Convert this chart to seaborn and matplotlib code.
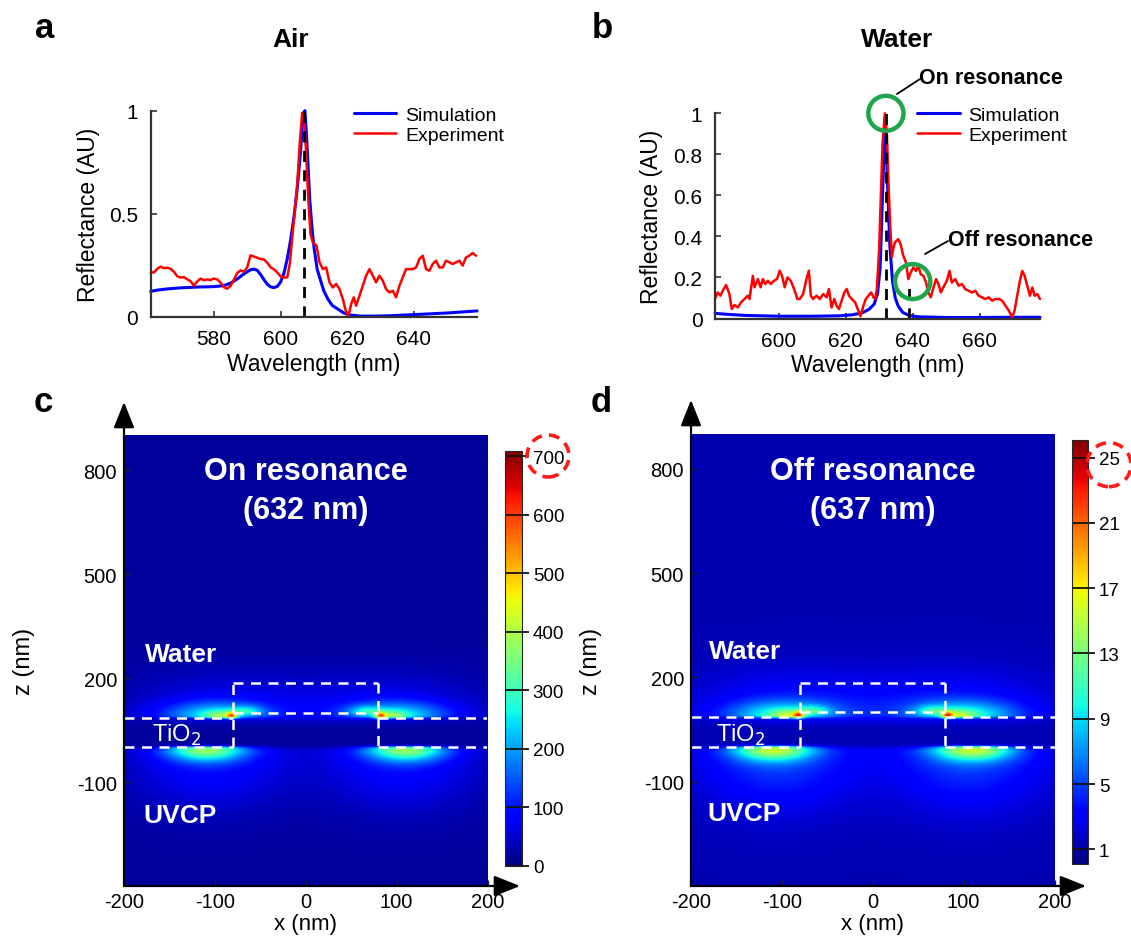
import numpy as np
import matplotlib
matplotlib.use("Agg")
import matplotlib.pyplot as plt
import seaborn as sns
from matplotlib.patches import Ellipse, Circle
from matplotlib.lines import Line2D

# ---------------- panel a : air ----------------
air_sim_wl = [561, 563, 566, 570, 575, 580, 583, 585, 587, 589,
              591, 592, 593, 594, 595, 596, 597, 598, 599, 600,
              601, 602, 603, 604, 605, 606, 606.5, 607, 607.3, 607.8,
              608.3, 608.8, 609.5, 610.1, 611, 612.2, 613, 614.2, 615.5, 617.2,
              619, 621, 624, 628, 632, 640, 650, 659]
air_sim_r = [0.123, 0.129, 0.135, 0.140, 0.144, 0.146, 0.151, 0.163, 0.183, 0.208,
             0.228, 0.231, 0.225, 0.205, 0.180, 0.158, 0.145, 0.141, 0.147, 0.168,
             0.21, 0.28, 0.37, 0.48, 0.62, 0.80, 0.92, 0.99, 1.0, 0.88,
             0.72, 0.56, 0.42, 0.33, 0.23, 0.167, 0.125, 0.086, 0.055, 0.037,
             0.018, 0.008, 0.003, 0.003, 0.004, 0.010, 0.018, 0.028]

air_exp_wl = [561, 562, 563, 564, 565, 566, 567, 568, 569, 570,
              571, 572, 573, 574, 575, 576, 577, 578, 579, 580,
              581, 582, 583, 584, 585, 586, 587, 588, 589, 590,
              591, 592, 593, 594, 595, 596, 597, 598, 599, 600,
              601, 602, 602.8, 603.6, 604.3, 605, 605.8, 606.5, 607, 607.6,
              608.3, 609, 609.7, 610.8, 611.7, 612.7, 613.7, 614.7, 615.7, 616.7,
              617.7, 618.7, 619.7, 620.4, 621.2, 622.0, 622.7, 623.7, 624.7, 625.7,
              626.7, 627.7, 628.7, 629.7, 630.7, 631.7, 632.7, 633.7, 634.7, 635.7,
              636.7, 637.7, 638.7, 639.7, 640.7, 641.7, 642.7, 643.7, 644.7, 645.7,
              646.7, 647.7, 648.7, 649.7, 650.7, 651.7, 652.7, 653.7, 654.7, 655.7,
              656.7, 657.7, 658.7]
air_exp_r = [0.215, 0.215, 0.233, 0.243, 0.236, 0.238, 0.232, 0.218, 0.196, 0.190,
             0.192, 0.181, 0.172, 0.150, 0.172, 0.185, 0.177, 0.181, 0.178, 0.185,
             0.181, 0.165, 0.143, 0.136, 0.150, 0.180, 0.212, 0.225, 0.218, 0.240,
             0.298, 0.292, 0.286, 0.280, 0.278, 0.262, 0.240, 0.230, 0.215, 0.196,
             0.190, 0.191, 0.26, 0.40, 0.52, 0.64, 0.85, 0.99, 0.98, 0.82,
             0.58, 0.40, 0.36, 0.345, 0.264, 0.231, 0.239, 0.167, 0.142, 0.159,
             0.134, 0.086, 0.021, 0.002, 0.061, 0.094, 0.053, 0.102, 0.150, 0.199,
             0.231, 0.199, 0.167, 0.199, 0.175, 0.134, 0.118, 0.126, 0.094, 0.150,
             0.191, 0.231, 0.231, 0.231, 0.239, 0.280, 0.296, 0.231, 0.223, 0.256,
             0.272, 0.239, 0.239, 0.272, 0.264, 0.256, 0.264, 0.272, 0.248, 0.288,
             0.296, 0.309, 0.296]

# ---------------- panel b : water ----------------
water_sim_wl = [581, 585, 590, 600, 610, 618, 622, 625, 627, 628.5,
                629.5, 630.3, 631, 631.8, 632.5, 633.2, 634, 634.8, 635.7, 637,
                639, 642, 650, 660, 670, 678]
water_sim_r = [0.025, 0.02, 0.015, 0.011, 0.011, 0.013, 0.018, 0.028, 0.045, 0.07,
               0.12, 0.25, 0.6, 0.98, 0.65, 0.35, 0.18, 0.10, 0.06, 0.03,
               0.014, 0.008, 0.005, 0.005, 0.006, 0.006]

water_exp_wl = [581, 581.8, 582.6, 583.3, 584.3, 585.3, 586.0, 586.8, 587.8, 588.8,
                589.8, 590.8, 591.3, 592.3, 592.8, 593.8, 594.6, 595.3, 596.0, 596.8,
                597.6, 598.6, 599.5, 600.3, 601.0, 601.8, 602.6, 603.6, 604.6, 605.6,
                606.3, 607.3, 608.3, 609.0, 609.6, 610.3, 611.3, 612.3, 613.3, 614.3,
                615.0, 615.8, 616.6, 617.3, 618.0, 618.8, 619.6, 620.3, 621.0, 621.8,
                622.8, 623.8, 624.4, 625.3, 626.0, 626.8, 627.6, 628.3, 628.8, 629.3,
                630.0, 630.5, 631.0, 631.7, 632.3, 632.8, 633.3, 633.8, 634.2, 634.7,
                635.7, 636.4, 637.2, 638.0, 638.7, 639.4, 640.2, 641.0, 641.7, 642.4,
                643.2, 644.0, 644.7, 645.4, 646.2, 647.0, 647.7, 648.4, 649.4, 650.2,
                651.0, 651.7, 652.7, 653.7, 654.7, 655.7, 656.7, 657.7, 658.7, 659.7,
                660.7, 661.7, 662.7, 663.7, 664.7, 665.7, 666.7, 667.7, 668.7, 669.7,
                670.4, 671.2, 672.0, 672.7, 673.4, 674.2, 675.0, 675.7, 676.4, 677.2,
                678.0]
water_exp_r = [0.095, 0.127, 0.111, 0.135, 0.163, 0.119, 0.046, 0.066, 0.054, 0.079,
               0.095, 0.111, 0.095, 0.208, 0.152, 0.192, 0.152, 0.192, 0.168, 0.184,
               0.168, 0.184, 0.192, 0.233, 0.208, 0.152, 0.200, 0.184, 0.144, 0.095,
               0.095, 0.119, 0.192, 0.233, 0.111, 0.095, 0.111, 0.095, 0.119, 0.103,
               0.144, 0.054, 0.095, 0.062, 0.046, 0.087, 0.127, 0.144, 0.111, 0.095,
               0.079, 0.038, 0.011, 0.062, 0.095, 0.111, 0.127, 0.103, 0.095, 0.144,
               0.34, 0.60, 0.85, 1.0, 0.90, 0.65, 0.45, 0.30, 0.34, 0.37,
               0.387, 0.362, 0.306, 0.273, 0.192, 0.224, 0.249, 0.232, 0.257, 0.216,
               0.208, 0.175, 0.127, 0.103, 0.151, 0.192, 0.168, 0.127, 0.160, 0.184,
               0.232, 0.175, 0.192, 0.160, 0.168, 0.143, 0.135, 0.127, 0.135, 0.111,
               0.103, 0.095, 0.103, 0.087, 0.095, 0.095, 0.087, 0.062, 0.038, 0.006,
               0.038, 0.111, 0.184, 0.232, 0.208, 0.160, 0.111, 0.151, 0.111, 0.119,
               0.095]

# ---------------- panels c, d : field maps ----------------
# hot spots of |E|^2 (left side, mirrored to the right), amplitude as fraction of colour max
spot_x = [-82, -95, -100, -90, -65, -110, -105]
spot_z = [90, 88, 90, 100, 102, -3, -15]
spot_sx = [4, 12, 40, 75, 12, 30, 60]
spot_sup = [8, 12, 28, 80, 12, 4, 10]
spot_sdn = [6, 4, 5, 20, 5, 25, 110]
on_amp = [0.40, 0.20, 0.26, 0.08, 0.15, 0.42, 0.12]
off_amp = [0.40, 0.20, 0.27, 0.10, 0.15, 0.44, 0.15]
on_base, off_base = 0.025, 0.05
on_max, off_min, off_max = 709, 0.1, 26.1
on_ticks = [0, 100, 200, 300, 400, 500, 600, 700]
off_ticks = [1, 5, 9, 13, 17, 21, 25]

# dashed outline of TiO2 grating (x, z)
outline = [
    ([-200, -80], [85, 85]), ([-200, -80], [0, 0]), ([-80, -80], [0, 185]),
    ([-80, 80], [185, 185]), ([80, 80], [185, 0]), ([80, 200], [85, 85]),
    ([80, 200], [0, 0]), ([-80, 80], [100, 100]),
]

sns.set_style("ticks")
plt.rcParams['font.family'] = ['Liberation Sans', 'DejaVu Sans']
plt.rcParams['text.color'] = 'black'
plt.rcParams['axes.labelcolor'] = 'black'
plt.rcParams['xtick.labelcolor'] = 'black'
plt.rcParams['ytick.labelcolor'] = 'black'

W, H = 1131, 937
fig = plt.figure(figsize=(W / 100, H / 100), dpi=100)


def fx(x):
    return x / W


def fy(y):
    return 1 - y / H


def box(l, t, r, b):
    return [l / W, 1 - b / H, (r - l) / W, (b - t) / H]


def spectrum(ax, sim_wl, sim_r, exp_wl, exp_r, xlim, yticks, ylabels):
    sns.lineplot(x=sim_wl, y=sim_r, ax=ax, color='#0000ff', lw=2.2, label='Simulation', sort=False)
    sns.lineplot(x=exp_wl, y=exp_r, ax=ax, color='#ff0000', lw=1.8, label='Experiment', sort=False)
    for ln in ax.lines:
        ln.set_clip_on(False)
    ax.set_xlim(*xlim)
    ax.set_ylim(0, 1)
    ax.set_yticks(yticks)
    ax.set_yticklabels(ylabels)
    sns.despine(ax=ax)
    for s in ['left', 'bottom']:
        ax.spines[s].set_color('#333333')
        ax.spines[s].set_linewidth(1.6)
    ax.tick_params(direction='in', length=4, width=1.2, color='#333333', labelsize=15, pad=9)
    ax.set_xlabel('Wavelength (nm)', fontsize=16.5, va='top')
    ax.set_ylabel('Reflectance (AU)', fontsize=16.5)
    ax.xaxis.set_label_coords(0.5, -0.17)


# panel a
ax_a = fig.add_axes(box(150.7, 111.7, 477, 317.7))
spectrum(ax_a, air_sim_wl, air_sim_r, air_exp_wl, air_exp_r, (561, 659),
         [0, 0.5, 1], ['0', '0.5', '1'])
ax_a.set_xticks([580, 600, 620, 640])
ax_a.plot([607, 607], [0, 1], color='k', lw=2, ls=(0, (4, 3)), clip_on=False)
ax_a.yaxis.set_label_coords(-0.155, 0.5)
ax_a.legend(loc='center left', bbox_to_anchor=(fx(353.6), fy(126.2)), bbox_transform=fig.transFigure,
            frameon=False, fontsize=14, handlelength=2.2, handletextpad=0.45,
            borderpad=0, borderaxespad=0, labelspacing=0.15)

# panel b
ax_b = fig.add_axes(box(715, 114.3, 1040, 319.5))
spectrum(ax_b, water_sim_wl, water_sim_r, water_exp_wl, water_exp_r, (581, 678),
         [0, 0.2, 0.4, 0.6, 0.8, 1], ['0', '0.2', '0.4', '0.6', '0.8', '1'])
ax_b.set_xticks([600, 620, 640, 660])
ax_b.plot([632, 632], [0, 1], color='k', lw=2, ls=(0, (4, 3)), clip_on=False)
ax_b.plot([639, 639], [0, 0.18], color='k', lw=2, ls=(0, (4, 3)), clip_on=False)
ax_b.yaxis.set_label_coords(-0.16, 0.5)
ax_b.legend(loc='center left', bbox_to_anchor=(fx(917), fy(126.2)), bbox_transform=fig.transFigure,
            frameon=False, fontsize=14, handlelength=2.2, handletextpad=0.45,
            borderpad=0, borderaxespad=0, labelspacing=0.15)
green = '#1fa64a'
for cx, cy in [(632, 1.0), (640, 0.18)]:
    ax_b.add_patch(Ellipse((cx, cy), width=2 * 17.5 / 3.33, height=2 * 17.5 / 205.5,
                           fill=False, ec=green, lw=3.2, clip_on=False, zorder=5))
fig.add_artist(Line2D([fx(897), fx(920)], [fy(95), fy(80)], color='k', lw=1.3))
fig.add_artist(Line2D([fx(925), fx(948)], [fy(255), fy(242)], color='k', lw=1.3))
fig.text(fx(919), fy(83.5), 'On resonance', fontsize=15.5, fontweight='bold', va='baseline')
fig.text(fx(948), fy(246), 'Off resonance', fontsize=15.5, fontweight='bold', va='baseline')

# titles and panel letters
fig.text(fx(291), fy(47), 'Air', fontsize=19, fontweight='bold', ha='center', va='baseline')
fig.text(fx(897), fy(47), 'Water', fontsize=19, fontweight='bold', ha='center', va='baseline')
for letter, lx, ly in [('a', 35, 38), ('b', 592, 38), ('c', 34, 412), ('d', 591, 412)]:
    fig.text(fx(lx), fy(ly), letter, fontsize=25, fontweight='bold', va='baseline')

# field maps
x_grid = np.linspace(-200, 200, 401)
z_grid = np.linspace(-400, 900, 651)
X, Z = np.meshgrid(x_grid, z_grid)


def field(amps, base):
    F = np.full(X.shape, base)
    for side in [1, -1]:
        for x0, z0, a, sx, su, sd in zip(spot_x, spot_z, amps, spot_sx, spot_sup, spot_sdn):
            sz = np.where(Z >= z0, su, sd)
            F = F + a * np.exp(-0.5 * ((X - side * x0) / sx) ** 2 - 0.5 * ((Z - z0) / sz) ** 2)
    return F


def fieldmap(ax_box, cax_box, F, vmin, vmax, ticks, title, lam, labels_left, arrow_tip):
    l, t, r, b = ax_box
    ax = fig.add_axes(box(*ax_box))
    im = ax.imshow(F * vmax, extent=(-200, 200, -400, 900), origin='lower', aspect='auto',
                   cmap='jet', vmin=vmin, vmax=vmax, interpolation='bilinear')
    for xs, zs in outline:
        ax.plot(xs, zs, color='white', lw=1.8, ls=(0, (4, 3)))
    ax.set_xlim(-200, 200)
    ax.set_ylim(-400, 900)
    for s in ax.spines.values():
        s.set_visible(False)
    ax.set_xticks([-200, -100, 0, 100, 200])
    ax.set_xticklabels(['-200', '-100', '0', '100', '200'])
    ax.set_yticks([800, 500, 200, -100])
    ax.set_yticklabels(['800', '500', '200', '-100'])
    ax.tick_params(direction='in', length=4, width=1, color='#222222', labelsize=14.5)
    ax.tick_params(axis='x', pad=4)
    ax.tick_params(axis='y', pad=5)
    ax.set_xlabel('x (nm)', fontsize=16, va='baseline')
    ax.set_ylabel('z (nm)', fontsize=17)
    ax.xaxis.set_label_coords(0.5, -(930 - b) / (b - t))
    ax.yaxis.set_label_coords(-0.245, 0.5)
    ax.text(0.5, 1 - (472 - t) / (b - t), title, transform=ax.transAxes, color='white',
            fontsize=22, fontweight='bold', ha='center', va='center')
    ax.text(0.5, 1 - (511 - t) / (b - t), lam, transform=ax.transAxes, color='white',
            fontsize=22, fontweight='bold', ha='center', va='center')
    (wx, wy), (tx, ty), (ux, uy) = labels_left
    fig.text(fx(wx), fy(wy), 'Water', color='white', fontsize=19, fontweight='bold', va='center')
    fig.text(fx(tx), fy(ty), 'TiO$_2$', color='white', fontsize=17, va='center')
    fig.text(fx(ux), fy(uy), 'UVCP', color='white', fontsize=19, fontweight='bold', va='center')
    # axis arrows
    ap = dict(arrowstyle='-|>,head_length=0.8,head_width=0.32', color='k', lw=1.6,
              shrinkA=0, shrinkB=0, mutation_scale=20)
    ax.annotate('', xy=(fx(l), fy(arrow_tip[1])), xytext=(fx(l), fy(b)),
                xycoords='figure fraction', textcoords='figure fraction', arrowprops=ap)
    ax.annotate('', xy=(fx(arrow_tip[0]), fy(b)), xytext=(fx(l), fy(b)),
                xycoords='figure fraction', textcoords='figure fraction', arrowprops=ap)
    # colour bar
    cax = fig.add_axes(box(*cax_box))
    cb = fig.colorbar(im, cax=cax, ticks=ticks)
    cb.outline.set_linewidth(0.8)
    cax.tick_params(length=0, pad=8, labelsize=13.5)
    cax.hlines(ticks, 0, 1.45, transform=cax.get_yaxis_transform(), colors='#111111',
               lw=1.3, clip_on=False)
    return ax, cax


F_on = field(on_amp, on_base)
F_off = field(off_amp, off_base)
fieldmap((124, 436.4, 487.5, 887), (505, 452, 521.7, 867), F_on, 0, on_max, on_ticks,
         'On resonance', '(632 nm)', [(144.6, 655), (151.8, 735), (143, 816)], (520, 403))
fieldmap((691, 435, 1054.5, 887), (1071.7, 440.7, 1088, 865), F_off, off_min, off_max, off_ticks,
         'Off resonance', '(637 nm)', [(709, 652), (715.6, 735), (707, 814)], (1086, 401))

# red dashed circles on colour-bar maxima
for cx, cy, rr in [(548, 457, 21), (1109, 465.7, 22)]:
    fig.add_artist(Circle((cx / 100, (H - cy) / 100), rr / 100, transform=fig.dpi_scale_trans,
                          fill=False, ec='#ff1a1a', lw=2.6, ls=(0, (3, 2))))

fig.savefig('out.png', dpi=100)
